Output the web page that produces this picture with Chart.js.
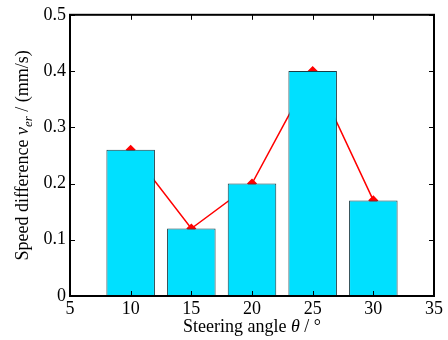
<!DOCTYPE html>
<html lang="en">
  <head>
    <meta charset="UTF-8" />
    <script src="https://cdn.jsdelivr.net/npm/chart.js"></script>
    <title>Speed difference</title>
    <style>
      html, body { margin: 0; padding: 0; background: #fff; }
      #wrap { width: 448px; height: 340px; }
    </style>
  </head>
  <body>
    <div id="wrap"><canvas id="myChart" width="448" height="340"></canvas></div>
    <script>
      // data
      const angles = [10, 15, 20, 25, 30];
      const speedDiff = [0.26, 0.12, 0.20, 0.40, 0.17];
      const xTicks = [5, 10, 15, 20, 25, 30, 35];
      const yTicks = [0, 0.1, 0.2, 0.3, 0.4, 0.5];

      const FONT = '"Liberation Serif", "Times New Roman", serif';

      const points = angles.map((a, i) => ({ x: a, y: speedDiff[i] }));

      // box around the plot + inward ticks on all four sides + axis titles
      const frame = {
        id: 'frame',
        afterDraw(chart) {
          const { ctx, chartArea: a, scales } = chart;
          const x = scales.x, y = scales.y;
          ctx.save();
          ctx.strokeStyle = '#000';
          ctx.lineWidth = 2;
          ctx.strokeRect(a.left, a.top, a.right - a.left, a.bottom - a.top);
          ctx.lineWidth = 1;
          ctx.beginPath();
          xTicks.forEach(v => {
            const px = Math.round(x.getPixelForValue(v)) + 0.5;
            ctx.moveTo(px, a.bottom); ctx.lineTo(px, a.bottom - 5);
            ctx.moveTo(px, a.top); ctx.lineTo(px, a.top + 5);
          });
          yTicks.forEach(v => {
            const py = Math.round(y.getPixelForValue(v)) + 0.5;
            ctx.moveTo(a.left, py); ctx.lineTo(a.left + 5, py);
            ctx.moveTo(a.right, py); ctx.lineTo(a.right - 5, py);
          });
          ctx.stroke();

          // x title: Steering angle θ / °
          ctx.fillStyle = '#000';
          ctx.textBaseline = 'alphabetic';
          const parts = [
            ['Steering angle ', '18px ' + FONT],
            ['θ', 'italic 18px ' + FONT],
            [' / °', '18px ' + FONT]
          ];
          let w = 0;
          parts.forEach(p => { ctx.font = p[1]; w += ctx.measureText(p[0]).width; });
          let cx = (a.left + a.right) / 2 - w / 2;
          parts.forEach(p => { ctx.font = p[1]; ctx.fillText(p[0], cx, 332); cx += ctx.measureText(p[0]).width; });

          // y title: Speed difference v_er / (mm/s)
          ctx.translate(28, (a.top + a.bottom) / 2);
          ctx.rotate(-Math.PI / 2);
          const yparts = [
            ['Speed difference ', '18px ' + FONT, 0],
            ['v', 'italic 18px ' + FONT, 0],
            ['er', 'italic 13px ' + FONT, 4],
            [' / (mm/s)', '18px ' + FONT, 0]
          ];
          w = 0;
          yparts.forEach(p => { ctx.font = p[1]; w += ctx.measureText(p[0]).width; });
          cx = -w / 2;
          yparts.forEach(p => { ctx.font = p[1]; ctx.fillText(p[0], cx, p[2]); cx += ctx.measureText(p[0]).width; });
          ctx.restore();
        }
      };

      const ctx = document.getElementById('myChart').getContext('2d');
      new Chart(ctx, {
        type: 'bar',
        data: {
          datasets: [
            {
              type: 'bar',
              data: points,
              backgroundColor: '#00E0FF',
              borderColor: '#1c3c44',
              borderWidth: 1,
              barPercentage: 0.8,
              categoryPercentage: 1,
              order: 1
            },
            {
              type: 'line',
              data: points,
              borderColor: '#ff0000',
              borderWidth: 1.5,
              pointStyle: 'rectRot',
              pointRadius: 4,
              pointBackgroundColor: '#ff0000',
              pointBorderColor: '#ff0000',
              tension: 0,
              order: 2
            }
          ]
        },
        options: {
          responsive: false,
          animation: false,
          events: [],
          layout: { padding: { top: 14, right: 14, left: 0, bottom: 0 } },
          plugins: { legend: { display: false }, tooltip: { enabled: false } },
          scales: {
            x: {
              type: 'linear',
              min: 5,
              max: 35,
              offset: false,
              afterBuildTicks: s => { s.ticks = xTicks.map(v => ({ value: v })); },
              afterFit: s => { s.height = 44; },
              grid: { display: false, drawTicks: false },
              border: { display: false },
              ticks: { color: '#000', padding: 2, font: { family: FONT, size: 18 } }
            },
            y: {
              min: 0,
              max: 0.5,
              afterBuildTicks: s => { s.ticks = yTicks.map(v => ({ value: v })); },
              afterFit: s => { s.width = 70; },
              grid: { display: false, drawTicks: false },
              border: { display: false },
              ticks: {
                color: '#000',
                padding: 4,
                font: { family: FONT, size: 18 },
                callback: v => String(Math.round(v * 10) / 10)
              }
            }
          }
        },
        plugins: [frame]
      });
    </script>
  </body>
</html>
